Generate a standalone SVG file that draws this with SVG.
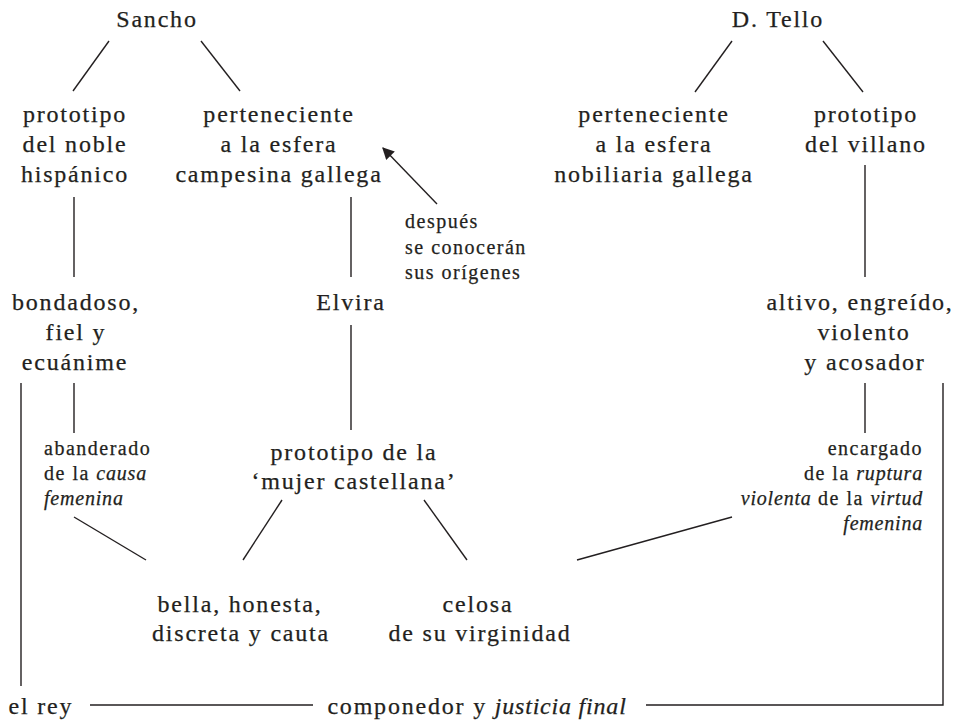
<svg xmlns="http://www.w3.org/2000/svg" width="958" height="725" viewBox="0 0 958 725">
<style>
text{font-family:"Liberation Serif","Times New Roman",serif;fill:#231f20;stroke:#231f20;stroke-width:0.25}
.m{font-size:24px;letter-spacing:1.8px;text-anchor:middle}
.s{font-size:20px;letter-spacing:1.5px}
.r{text-anchor:end}
.i{font-style:italic;letter-spacing:0.8px}
line,path{stroke:#231f20;stroke-width:1.4;fill:none}
</style>
<defs>
<marker id="ah" viewBox="0 0 10 10" refX="9" refY="5" markerWidth="14" markerHeight="12" markerUnits="userSpaceOnUse" orient="auto">
<path d="M0,0 L10,5 L0,10 z" style="fill:#231f20;stroke:none"/>
</marker>
</defs>
<g id="connectors">
<line x1="109" y1="41" x2="73" y2="91"/>
<line x1="201" y1="41" x2="240" y2="91"/>
<line x1="732" y1="41" x2="695" y2="92"/>
<line x1="823" y1="41" x2="863" y2="92"/>
<line x1="74" y1="197" x2="74" y2="277"/>
<line x1="351" y1="197" x2="351" y2="277"/>
<line x1="865" y1="165" x2="865" y2="277"/>
<line x1="437" y1="204" x2="383" y2="148" marker-end="url(#ah)"/>
<line x1="74" y1="383" x2="74" y2="433"/>
<line x1="351" y1="325" x2="351" y2="430"/>
<line x1="865" y1="383" x2="865" y2="433"/>
<line x1="282" y1="500" x2="243" y2="560"/>
<line x1="424" y1="500" x2="467" y2="560"/>
<line x1="74" y1="517" x2="146" y2="560"/>
<line x1="732" y1="517" x2="577" y2="560"/>
<line x1="21" y1="383" x2="21" y2="686"/>
<line x1="90" y1="705" x2="313" y2="705"/>
<path d="M646,705 H943 V383"/>
</g>
<g id="sancho"><text class="m" x="157" y="27">Sancho</text></g>
<g id="tello"><text class="m" x="778" y="27">D. Tello</text></g>
<g id="proto-noble"><text class="m" x="75" y="122">prototipo</text><text class="m" x="75" y="152">del noble</text><text class="m" x="75" y="182">hispánico</text></g>
<g id="pert-campesina"><text class="m" x="279" y="122">perteneciente</text><text class="m" x="279" y="152">a la esfera</text><text class="m" x="279" y="182">campesina gallega</text></g>
<g id="pert-nobiliaria"><text class="m" x="654" y="122">perteneciente</text><text class="m" x="654" y="152">a la esfera</text><text class="m" x="654" y="182">nobiliaria gallega</text></g>
<g id="proto-villano"><text class="m" x="866" y="122">prototipo</text><text class="m" x="866" y="152">del villano</text></g>
<g id="despues"><text class="s" x="405" y="228">después</text><text class="s" x="405" y="254">se conocerán</text><text class="s" x="405" y="279">sus orígenes</text></g>
<g id="bondadoso"><text class="m" x="76" y="310">bondadoso,</text><text class="m" x="76" y="340">fiel y</text><text class="m" x="75" y="370">ecuánime</text></g>
<g id="elvira"><text class="m" x="351" y="310">Elvira</text></g>
<g id="altivo"><text class="m" x="860" y="310">altivo, engreído,</text><text class="m" x="864" y="340">violento</text><text class="m" x="865" y="370">y acosador</text></g>
<g id="abanderado"><text class="s" x="44" y="455">abanderado</text><text class="s" x="44" y="480">de la <tspan class="i">causa</tspan></text><text class="s i" x="44" y="505">femenina</text></g>
<g id="mujer"><text class="m" x="354" y="460">prototipo de la</text><text class="m" x="354" y="489">‘mujer castellana’</text></g>
<g id="encargado"><text class="s r" x="923" y="455">encargado</text><text class="s r" x="923" y="480">de la <tspan class="i">ruptura</tspan></text><text class="s r" x="923" y="505"><tspan class="i">violenta</tspan> de la <tspan class="i">virtud</tspan></text><text class="s r i" x="923" y="530">femenina</text></g>
<g id="bella"><text class="m" x="240" y="612">bella, honesta,</text><text class="m" x="241" y="641">discreta y cauta</text></g>
<g id="celosa"><text class="m" x="478" y="612">celosa</text><text class="m" x="480" y="641">de su virginidad</text></g>
<g id="rey"><text class="m" x="41" y="714">el rey</text></g>
<g id="componedor"><text class="m" x="477" y="714">componedor y <tspan class="i">justicia final</tspan></text></g>
</svg>
